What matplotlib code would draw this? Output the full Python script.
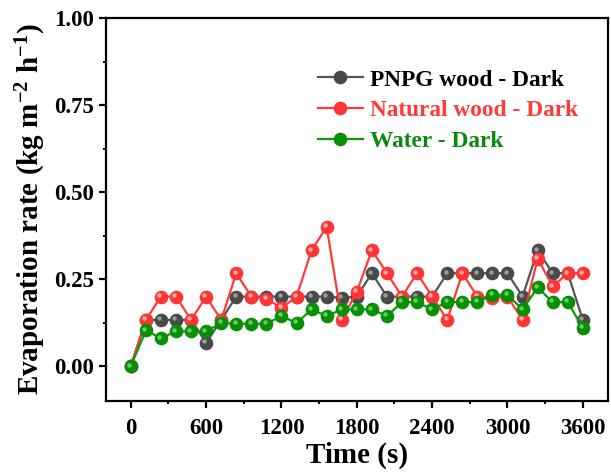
import matplotlib
matplotlib.use('Agg')
import matplotlib.pyplot as plt
import matplotlib.transforms as mtransforms
import numpy as np

plt.rcParams['font.family'] = 'Liberation Serif'
plt.rcParams['font.weight'] = 'bold'
plt.rcParams['mathtext.fontset'] = 'custom'
plt.rcParams['mathtext.rm'] = 'Liberation Serif:bold'
plt.rcParams['mathtext.bf'] = 'Liberation Serif:bold'
plt.rcParams['mathtext.default'] = 'bf'

# time in seconds, one reading every 120 s
time_s = np.arange(0, 3601, 120)

pnpg_wood = [0, 0.133, 0.133, 0.133, 0.133, 0.067, 0.133, 0.2, 0.2, 0.2,
             0.2, 0.2, 0.2, 0.2, 0.196, 0.2, 0.267, 0.2, 0.2, 0.2,
             0.2, 0.267, 0.267, 0.267, 0.267, 0.267, 0.2, 0.333, 0.267, 0.267,
             0.133]
natural_wood = [0, 0.133, 0.2, 0.2, 0.133, 0.2, 0.133, 0.267, 0.2, 0.194,
                0.167, 0.2, 0.333, 0.4, 0.133, 0.214, 0.333, 0.267, 0.2, 0.267,
                0.2, 0.133, 0.267, 0.2, 0.196, 0.2, 0.133, 0.309, 0.229, 0.267,
                0.267]
water = [0, 0.103, 0.08, 0.1, 0.1, 0.1, 0.124, 0.122, 0.122, 0.122,
         0.144, 0.124, 0.163, 0.144, 0.163, 0.163, 0.163, 0.144, 0.184, 0.184,
         0.163, 0.184, 0.184, 0.184, 0.205, 0.205, 0.163, 0.226, 0.184, 0.184,
         0.11]

labels = ['PNPG wood - Dark', 'Natural wood - Dark', 'Water - Dark']
line_colors = ['#555555', '#ff3a3a', '#0a9a0a']
marker_colors = ['#4a4a4a', '#ff3535', '#078f07']
hi_colors = ['#9a9a9a', '#ffaaaa', '#66cc66']
text_colors = ['black', '#ff3a3a', '#0a8a0a']

fig = plt.figure(figsize=(6.11, 4.74), dpi=100)
ax = fig.add_axes([0.173, 0.154, 0.822, 0.808])

# small offset for the highlight on each "ball" marker
hl = mtransforms.ScaledTranslation(-1.2 / 72, 1.2 / 72, fig.dpi_scale_trans)

handles = []
for ys, lab, lc, mc, hc in zip([pnpg_wood, natural_wood, water], labels,
                               line_colors, marker_colors, hi_colors):
    h, = ax.plot(time_s, ys, '-o', color=lc, lw=1.6, ms=8.8,
                 mfc=mc, mec=mc, label=lab)
    ax.plot(time_s, ys, 'o', ls='none', ms=3.2, mfc=hc, mec='none',
            transform=ax.transData + hl)
    handles.append(h)

ax.set_xlim(-200, 3800)
ax.set_ylim(-0.1, 1.0)
ax.set_xticks(np.arange(0, 3601, 600))
ax.set_xticks(np.arange(300, 3600, 600), minor=True)
ax.set_yticks([0, 0.25, 0.5, 0.75, 1.0])
ax.set_yticks([0.125, 0.375, 0.625, 0.875], minor=True)
ax.yaxis.set_major_formatter(matplotlib.ticker.FormatStrFormatter('%.2f'))

for s in ax.spines.values():
    s.set_linewidth(1.6)
ax.tick_params(which='major', direction='out', length=5, width=1.6,
               labelsize=16.5)
ax.tick_params(axis='x', which='major', pad=7)
ax.tick_params(axis='y', which='major', pad=3.5)
ax.tick_params(which='minor', direction='out', length=2.5, width=1.4)
ax.tick_params(top=False, right=False)

ax.set_xlabel('Time (s)', fontsize=21, fontweight='bold', labelpad=2)
ax.set_ylabel(r'Evaporation rate (kg m$^{-2}$ h$^{-1}$)', fontsize=21,
              fontweight='bold', labelpad=4)

leg = ax.legend(handles=handles, loc='upper left',
                bbox_to_anchor=(0.422, 0.866), frameon=False, fontsize=16.8,
                handlelength=1.95, handletextpad=0.3, labelspacing=0.4,
                borderpad=0, borderaxespad=0)
for t, c in zip(leg.get_texts(), text_colors):
    t.set_color(c)

fig.savefig('out.png', dpi=100)
